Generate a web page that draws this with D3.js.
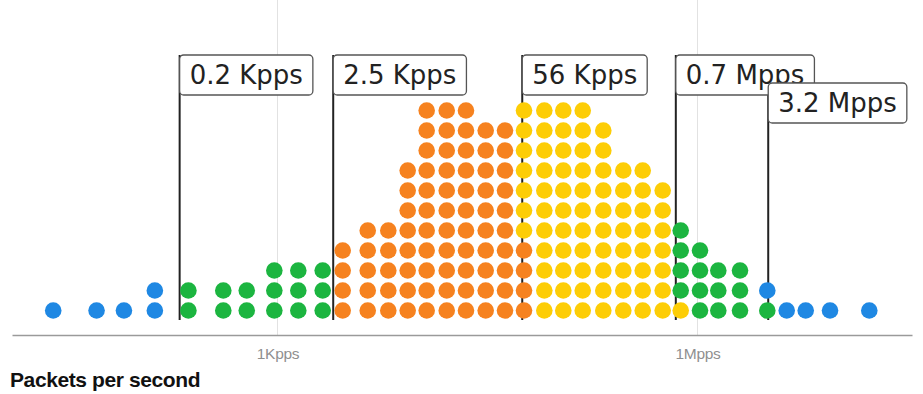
<!DOCTYPE html>
<html>
<head>
<meta charset="utf-8">
<script src="https://cdn.jsdelivr.net/npm/d3@7"></script>
<style>
  html, body { margin: 0; padding: 0; background: #fff; }
  svg { display: block; }
</style>
</head>
<body>
<svg id="chart" width="923" height="394"></svg>
<script>
// Packet rate of each dot column (packets per second, log axis)
const columnPps = [25, 51, 80, 133, 231, 410, 603, 949, 1408, 2103,
  2922, 4410, 6186, 8511, 11630, 16170, 22200, 30700, 42170, 57640,
  80500, 110000, 151400, 212400, 295100, 406100, 564100, 758600, 1042000, 1408000,
  2012000, 3152000, 4337000, 5928000, 8842000, 16870000];

// Dots per column in each percentile band, listed from slowest band to fastest
const tailLow   = [1,1,1,2,0,0,0,0,0,0, 0,0,0,0,0,0,0,0,0,0, 0,0,0,0,0,0,0,0,0,0, 0,0,0,0,0,0];
const outerLow  = [0,0,0,0,2,2,2,3,3,3, 0,0,0,0,0,0,0,0,0,0, 0,0,0,0,0,0,0,0,0,0, 0,0,0,0,0,0];
const lowerMid  = [0,0,0,0,0,0,0,0,0,0, 4,5,5,8,11,11,11,10,10,4, 0,0,0,0,0,0,0,0,0,0, 0,0,0,0,0,0];
const upperMid  = [0,0,0,0,0,0,0,0,0,0, 0,0,0,0,0,0,0,0,0,7, 11,11,11,10,8,8,7,1,0,0, 0,0,0,0,0,0];
const outerHigh = [0,0,0,0,0,0,0,0,0,0, 0,0,0,0,0,0,0,0,0,0, 0,0,0,0,0,0,0,4,4,3, 3,1,0,0,0,0];
const tailHigh  = [0,0,0,0,0,0,0,0,0,0, 0,0,0,0,0,0,0,0,0,0, 0,0,0,0,0,0,0,0,0,0, 0,1,1,1,1,1];

const bandCounts = [tailLow, outerLow, lowerMid, upperMid, outerHigh, tailHigh];
const bandColors = ["#1f88e3", "#1cb540", "#f6821f", "#fdcd06", "#1cb540", "#1f88e3"];

// Percentile markers
const markerValues = [200, 2500, 56000, 700000, 3200000];
const markerLabels = ["0.2 Kpps", "2.5 Kpps", "56 Kpps", "0.7 Mpps", "3.2 Mpps"];

// Axis ticks
const tickValues = [1e3, 1e6];
const tickLabels = ["1Kpps", "1Mpps"];

const width = 923, height = 394;
const axisY = 335;
const left = 12, right = 912;

const svg = d3.select("#chart");

// Log scale: one decade = 140px, extended to the full axis width
const x = d3.scaleLog().domain([1e3, 1e6]).range([277.5, 697.5]);
const d0 = x.invert(left), d1 = x.invert(right);
x.domain([d0, d1]).range([left, right]);

// Row position of a dot by its stack index
const y = d3.scaleLinear().domain([0, 1]).range([310.5, 290.5]);
const r = 8.3;

// Vertical gridlines at the ticks
svg.append("g")
  .selectAll("line")
  .data(tickValues)
  .join("line")
  .attr("x1", d => x(d)).attr("x2", d => x(d))
  .attr("y1", 0).attr("y2", axisY)
  .attr("stroke", "#e2e2e2")
  .attr("stroke-width", 1);

// Bottom axis
const axis = svg.append("g")
  .attr("transform", `translate(0,${axisY})`)
  .call(d3.axisBottom(x)
    .tickValues(tickValues)
    .tickFormat((d, i) => tickLabels[i])
    .tickSize(0)
    .tickSizeOuter(0)
    .tickPadding(13));
axis.select(".domain").attr("stroke", "#9a9a9a").attr("stroke-width", 1.6);
axis.selectAll("text")
  .attr("font-family", "'Liberation Sans', Arial, sans-serif")
  .attr("font-size", 15.5)
  .attr("letter-spacing", -0.3)
  .attr("fill", "#8f8f8f");

// Axis title
svg.append("text")
  .attr("x", 10).attr("y", 387)
  .attr("font-family", "'Liberation Sans', Arial, sans-serif")
  .attr("font-weight", 700)
  .attr("font-size", 21)
  .attr("letter-spacing", -0.4)
  .attr("fill", "#111")
  .text("Packets per second");

// Marker lines (behind the dots)
const boxTop = 55, boxH = 40, laneStep = 28, lineBottom = 320;
const markers = markerValues.map((v, i) => ({ v, label: markerLabels[i], x: x(v) }));

const markerG = svg.append("g");
const lineG = markerG.append("g");

// Dots, stacked in band order within each column
const dots = [];
columnPps.forEach((v, ci) => {
  let k = 0;
  bandCounts.forEach((counts, bi) => {
    for (let j = 0; j < counts[ci]; j++) {
      dots.push({ v, k: k++, color: bandColors[bi] });
    }
  });
});

svg.append("g")
  .selectAll("circle")
  .data(dots)
  .join("circle")
  .attr("cx", d => x(d.v))
  .attr("cy", d => y(d.k))
  .attr("r", r)
  .attr("fill", d => d.color);

// Label boxes; a box that would collide with the previous one drops a lane
const boxG = svg.append("g");
let prevRight = -Infinity, lane = 0;
markers.forEach(m => {
  const g = boxG.append("g");
  const t = g.append("text")
    .attr("font-family", "'DejaVu Sans', Verdana, sans-serif")
    .attr("font-size", 26)
    .attr("fill", "#222")
    .text(m.label);
  const tw = t.node().getComputedTextLength();
  const w = tw + 20;
  lane = (m.x < prevRight + 2) ? lane + 1 : 0;
  const top = boxTop + lane * laneStep;
  t.attr("x", m.x + 10).attr("y", top + 29);
  g.insert("rect", "text")
    .attr("x", m.x).attr("y", top)
    .attr("width", w).attr("height", boxH)
    .attr("rx", 4)
    .attr("fill", "#fff")
    .attr("stroke", "#555")
    .attr("stroke-width", 1.3);
  prevRight = m.x + w;
  lineG.append("line")
    .attr("x1", m.x).attr("x2", m.x)
    .attr("y1", top).attr("y2", lineBottom)
    .attr("stroke", "#222")
    .attr("stroke-width", 2);
});
</script>
</body>
</html>
